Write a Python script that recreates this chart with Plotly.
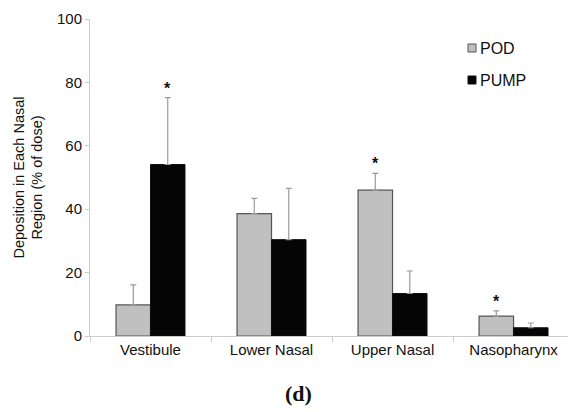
import plotly.graph_objects as go

regions = ["Vestibule", "Lower Nasal", "Upper Nasal", "Nasopharynx"]
pod_mean = [9.8, 38.6, 46.0, 6.3]
pod_sd = [6.3, 4.8, 5.3, 1.6]
pump_mean = [54.1, 30.4, 13.4, 2.6]
pump_sd = [21.1, 16.2, 7.1, 1.5]
# significance markers: (series, region index)
significant = [("PUMP", 0), ("POD", 2), ("POD", 3)]

FONT = "Liberation Sans, Arial, sans-serif"
W, H = 568, 412
ML, MR, MT, MB = 90, 0, 19, 76
PW, PH = W - ML - MR, H - MT - MB


def px_x(x):
    return (x - ML) / PW


def px_y(y):
    return (H - MB - y) / PH


POD_FILL, POD_EDGE = "#c0c0c0", "#555555"
PUMP_FILL = "#050505"

fig = go.Figure()
fig.add_trace(go.Bar(
    name="POD", x=regions, y=pod_mean, showlegend=False,
    marker=dict(color=POD_FILL, line=dict(color=POD_EDGE, width=1.2)),
    error_y=dict(type="data", array=pod_sd, arrayminus=[0] * 4, symmetric=False,
                 color="#9a9a9a", thickness=1.2, width=3),
))
fig.add_trace(go.Bar(
    name="PUMP", x=regions, y=pump_mean, showlegend=False,
    marker=dict(color=PUMP_FILL, line=dict(color="#111111", width=1)),
    error_y=dict(type="data", array=pump_sd, arrayminus=[0] * 4, symmetric=False,
                 color="#9a9a9a", thickness=1.2, width=3),
))

series = {"POD": (pod_mean, pod_sd, -0.143), "PUMP": (pump_mean, pump_sd, 0.143)}
for name, i in significant:
    m, s, off = series[name]
    fig.add_annotation(x=i + off, y=m[i] + s[i], xref="x", yref="y", text="<b>*</b>",
                       showarrow=False, yanchor="bottom", yshift=-1,
                       font=dict(family=FONT, size=16, color="#111111"))

# legend: small square swatch followed by label
legend_items = [("POD", POD_FILL, POD_EDGE, 48), ("PUMP", PUMP_FILL, "#111111", 80)]
for label, fill, edge, cy in legend_items:
    fig.add_shape(type="rect", xref="paper", yref="paper",
                  x0=px_x(468), x1=px_x(476), y0=px_y(cy + 4), y1=px_y(cy - 4),
                  fillcolor=fill, line=dict(color=edge, width=1))
    fig.add_annotation(x=px_x(478), y=px_y(cy), xref="paper", yref="paper", text=label,
                       showarrow=False, xanchor="left", yanchor="middle",
                       font=dict(family=FONT, size=16, color="#111111"))

fig.add_annotation(x=px_x(298), y=px_y(393), xref="paper", yref="paper", text="<b>(d)</b>",
                   showarrow=False, xanchor="center", yanchor="middle",
                   font=dict(family="Liberation Serif, Times New Roman, serif", size=22, color="#111111"))

fig.update_layout(
    width=W, height=H,
    margin=dict(l=ML, r=MR, t=MT, b=MB),
    paper_bgcolor="white", plot_bgcolor="white",
    barmode="group", bargap=0.43, bargroupgap=0,
    showlegend=False,
    font=dict(family=FONT, color="#111111"),
    xaxis=dict(type="category", range=[-0.5, 3.45], tickson="boundaries",
               ticks="outside", ticklen=5, tickcolor="#cccccc",
               showline=True, linecolor="#cccccc", linewidth=1,
               tickfont=dict(family=FONT, size=15, color="#111111")),
    yaxis=dict(range=[0, 100], tickvals=[0, 20, 40, 60, 80, 100],
               ticks="outside", ticklen=4, tickcolor="#cccccc",
               showline=True, linecolor="#cccccc", linewidth=1, showgrid=False,
               zeroline=False,
               tickfont=dict(family=FONT, size=15, color="#111111"),
               title=dict(text="Deposition in Each Nasal<br>Region (% of dose)",
                          font=dict(family=FONT, size=14.5, color="#111111"), standoff=10)),
)

fig.write_html("out.html")
